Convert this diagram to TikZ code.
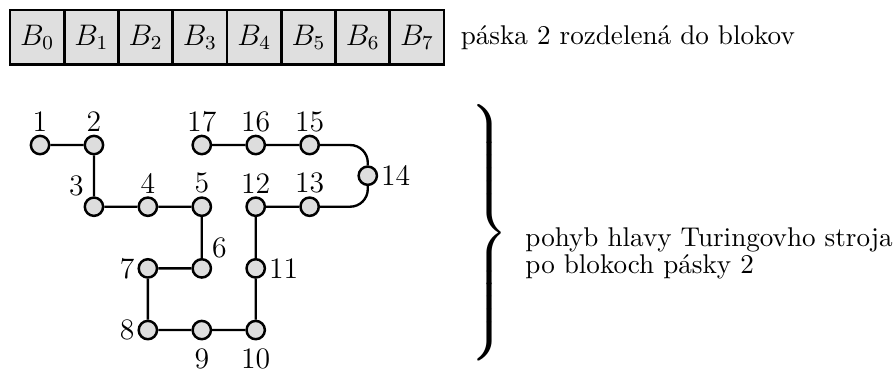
\documentclass[tikz,border=0pt,12pt]{standalone}
\usepackage{exscale}
\usepackage{tikz}
\usetikzlibrary{positioning}
\tikzstyle{tapecell} = [rectangle, draw=black, line width=1.1pt, fill=gray!25, minimum width=0.77cm, minimum height=0.77cm, inner sep=0pt]
\tikzstyle{headpos} = [circle, draw=black, line width=1pt, fill=gray!27, minimum size=0.26cm, inner sep=0pt]
\tikzstyle{headpath} = [line width=0.95pt, rounded corners=0.25cm]
\tikzstyle{note} = [align=left, font=\fontsize{10.95}{10.9}\selectfont]

\begin{document}
\begin{tikzpicture}[node distance=0.58cm and 0.47cm, every label/.style={inner sep=1pt}]
    \useasboundingbox (0,0) rectangle (12.70,-5.28);
    % Tape split into blocks
    \foreach \i in {0,...,7}
        \node[tapecell] (b\i) at (0.527+0.77*\i,-0.528) {$B_\i$};
    \node[note, right=0.07cm of b7] (tapetext) {páska 2 rozdelená do blokov};

    % Head positions
    \node[headpos, label=above:1] (n1) at (0.568,-2.058) {};
    \node[headpos, right=of n1, label=above:2] (n2) {};
    \node[headpos, below=of n2, label=above left:3] (n3) {};
    \node[headpos, right=of n3, label=above:4] (n4) {};
    \node[headpos, right=of n4, label=above:5] (n5) {};
    \node[headpos, below=of n5, label=above right:6] (n6) {};
    \node[headpos, left=of n6, label=left:7] (n7) {};
    \node[headpos, below=of n7, label=left:8] (n8) {};
    \node[headpos, right=of n8, label={[label distance=2pt]below:9}] (n9) {};
    \node[headpos, right=of n9, label={[label distance=2pt]below:10}] (n10) {};
    \node[headpos, above=of n10, label=right:11] (n11) {};
    \node[headpos, above=of n11, label=above:12] (n12) {};
    \node[headpos, right=of n12, label=above:13] (n13) {};
    \node[headpos, right=0.53cm of n13, yshift=0.44cm, label=right:14] (n14) {};
    \node[headpos, above=of n13, label=above:15] (n15) {};
    \node[headpos, left=of n15, label=above:16] (n16) {};
    \node[headpos, left=of n16, label=above:17] (n17) {};

    % Head movement
    \draw[headpath] (n1) -- (n2) -- (n3) -- (n4) -- (n5) -- (n6) -- (n7) -- (n8)
        -- (n9) -- (n10) -- (n11) -- (n12) -- (n13) -- (n13 -| n14) -- (n14)
        -- (n15 -| n14) -- (n15) -- (n16) -- (n17);

    % Brace with description
    \node[inner sep=0pt, font=\Large] (brace) at (6.93,-3.30) {$\left.\vrule height 52pt depth 46pt width 0pt\right\}$};
    \node[note, right=0.08cm of brace, yshift=-0.29cm] (movetext)
        {pohyb hlavy Turingovho stroja\\po blokoch pásky 2};
\end{tikzpicture}
\end{document}
